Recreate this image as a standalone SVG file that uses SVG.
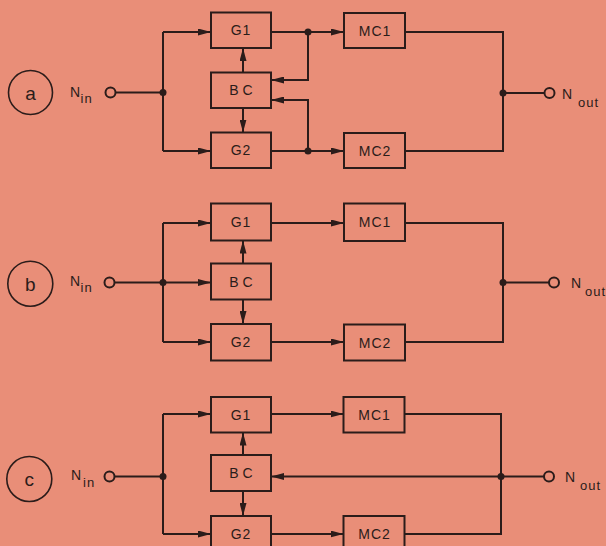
<svg xmlns="http://www.w3.org/2000/svg" width="606" height="546" viewBox="0 0 606 546">
<style>
.bg{fill:#E98E78}
.box{fill:none;stroke:#2b1c1a;stroke-width:2}
.ln{fill:none;stroke:#2b1c1a;stroke-width:2}
.arr{fill:none;stroke:#2b1c1a;stroke-width:2;marker-end:url(#ah)}
.dot{fill:#2b1c1a}
.term{fill:none;stroke:#2b1c1a;stroke-width:2}
.lbl{font-family:"Liberation Sans",Arial,sans-serif;font-size:14px;fill:#2b1c1a;text-anchor:middle;letter-spacing:1px}
.bc{letter-spacing:4px}
.pin{font-family:"Liberation Sans",Arial,sans-serif;font-size:14px;fill:#2b1c1a}
.sub{font-size:13px;letter-spacing:1px}
.pc{fill:none;stroke:#2b1c1a;stroke-width:1.6}
.pl{font-family:"Liberation Sans",Arial,sans-serif;font-size:19px;fill:#2b1c1a;text-anchor:middle}
</style>
<defs>
<marker id="ah" viewBox="0 0 13 7" refX="13" refY="3.5" markerWidth="13" markerHeight="7" markerUnits="userSpaceOnUse" orient="auto">
<path d="M0,0 L13,3.5 L0,7 z" fill="#2b1c1a"/>
</marker>
</defs>
<rect class="bg" x="0" y="0" width="606" height="546"/>

<g id="connectors">
<!-- panel a -->
<path class="ln" d="M115,92.5 H163"/>
<path class="ln" d="M163,32 V151"/>
<path class="arr" d="M163,32 H211"/>
<path class="arr" d="M163,151 H211"/>
<path class="arr" d="M271,32 H344"/>
<path class="arr" d="M271,151 H344"/>
<path class="arr" d="M308,32 V80 H271"/>
<path class="arr" d="M308,151 V100 H271"/>
<path class="arr" d="M243,72.5 V48"/>
<path class="arr" d="M243,108 V132.5"/>
<path class="ln" d="M405,32 H503 V151 H405"/>
<path class="ln" d="M503,93 H545"/>
<circle class="dot" cx="163" cy="92.5" r="3.5"/>
<circle class="dot" cx="308" cy="32" r="3.5"/>
<circle class="dot" cx="308" cy="151" r="3.5"/>
<circle class="dot" cx="503" cy="93" r="3.5"/>
<!-- panel b -->
<path class="ln" d="M114.5,282.5 H163"/>
<path class="ln" d="M163,223 V342"/>
<path class="arr" d="M163,223 H211"/>
<path class="arr" d="M163,342 H211"/>
<path class="arr" d="M163,282.5 H211"/>
<path class="arr" d="M271,223 H344"/>
<path class="arr" d="M271,342 H344"/>
<path class="arr" d="M243,263.5 V240.5"/>
<path class="arr" d="M243,299.5 V324"/>
<path class="ln" d="M405,223 H503 V342 H405"/>
<path class="ln" d="M503,282.5 H549"/>
<circle class="dot" cx="163" cy="282.5" r="3.5"/>
<circle class="dot" cx="503" cy="282.5" r="3.5"/>
<!-- panel c -->
<path class="ln" d="M114.5,476.5 H163"/>
<path class="ln" d="M163,414 V534"/>
<path class="arr" d="M163,414 H211"/>
<path class="arr" d="M163,534 H211"/>
<path class="arr" d="M271,414 H343.5"/>
<path class="arr" d="M271,534 H343.5"/>
<path class="arr" d="M243,455 V432.5"/>
<path class="arr" d="M243,491 V516"/>
<path class="ln" d="M404.5,414 H501 V534 H404.5"/>
<path class="arr" d="M501,476.5 H271"/>
<path class="ln" d="M501,476.5 H544"/>
<circle class="dot" cx="163" cy="476.5" r="3.5"/>
<circle class="dot" cx="501" cy="476.5" r="3.5"/>
</g>

<!-- panel a nodes -->
<g id="a-label"><circle class="pc" cx="30.5" cy="92.5" r="22"/><text class="pl" x="30.5" y="100">a</text></g>
<g id="a-nin"><circle class="term" cx="110.5" cy="92.5" r="5"/><text class="pin" x="70" y="96.5">N<tspan class="sub" x="80.5" y="102.5">in</tspan></text></g>
<g id="a-G1"><rect class="box" x="211" y="12.5" width="60" height="35.5"/><text class="lbl" x="241" y="35">G1</text></g>
<g id="a-BC"><rect class="box" x="211" y="72.5" width="60" height="35.5"/><text class="lbl bc" x="243" y="95">BC</text></g>
<g id="a-G2"><rect class="box" x="211" y="132.5" width="60" height="35.5"/><text class="lbl" x="241" y="155">G2</text></g>
<g id="a-MC1"><rect class="box" x="344" y="13" width="61" height="35"/><text class="lbl" x="375" y="35.5">MC1</text></g>
<g id="a-MC2"><rect class="box" x="344" y="133" width="61" height="35"/><text class="lbl" x="375" y="155.5">MC2</text></g>
<g id="a-nout"><circle class="term" cx="549.5" cy="93" r="5"/><text class="pin" x="562" y="99">N<tspan class="sub" x="578" y="107">out</tspan></text></g>

<!-- panel b nodes -->
<g id="b-label"><circle class="pc" cx="30.3" cy="283.7" r="22.5"/><text class="pl" x="30.3" y="290.5">b</text></g>
<g id="b-nin"><circle class="term" cx="109.5" cy="282.5" r="5"/><text class="pin" x="70" y="286">N<tspan class="sub" x="80.5" y="292">in</tspan></text></g>
<g id="b-G1"><rect class="box" x="211" y="203.5" width="60" height="37"/><text class="lbl" x="241" y="227">G1</text></g>
<g id="b-BC"><rect class="box" x="211" y="263.5" width="60" height="36"/><text class="lbl bc" x="243" y="286.5">BC</text></g>
<g id="b-G2"><rect class="box" x="211" y="324" width="60" height="36.5"/><text class="lbl" x="241" y="347">G2</text></g>
<g id="b-MC1"><rect class="box" x="344" y="203.5" width="61" height="37.5"/><text class="lbl" x="375" y="227">MC1</text></g>
<g id="b-MC2"><rect class="box" x="344" y="324.5" width="61" height="36"/><text class="lbl" x="375" y="347.5">MC2</text></g>
<g id="b-nout"><circle class="term" cx="554" cy="282.5" r="5"/><text class="pin" x="571" y="288">N<tspan class="sub" x="585" y="296">out</tspan></text></g>

<!-- panel c nodes -->
<g id="c-label"><circle class="pc" cx="29.3" cy="479" r="22.5"/><text class="pl" x="29.3" y="485.5">c</text></g>
<g id="c-nin"><circle class="term" cx="109.5" cy="476.5" r="5"/><text class="pin" x="71" y="480">N<tspan class="sub" x="83" y="487">in</tspan></text></g>
<g id="c-G1"><rect class="box" x="211" y="397" width="60" height="35.5"/><text class="lbl" x="241" y="419.5">G1</text></g>
<g id="c-BC"><rect class="box" x="211" y="455" width="60" height="36"/><text class="lbl bc" x="243" y="478">BC</text></g>
<g id="c-G2"><rect class="box" x="211" y="516" width="60" height="40"/><text class="lbl" x="241" y="539">G2</text></g>
<g id="c-MC1"><rect class="box" x="343.5" y="397" width="61" height="35.5"/><text class="lbl" x="374.5" y="419.5">MC1</text></g>
<g id="c-MC2"><rect class="box" x="343.5" y="516" width="61" height="40"/><text class="lbl" x="374.5" y="539">MC2</text></g>
<g id="c-nout"><circle class="term" cx="549" cy="476.5" r="5"/><text class="pin" x="565" y="482">N<tspan class="sub" x="580" y="490">out</tspan></text></g>
</svg>
